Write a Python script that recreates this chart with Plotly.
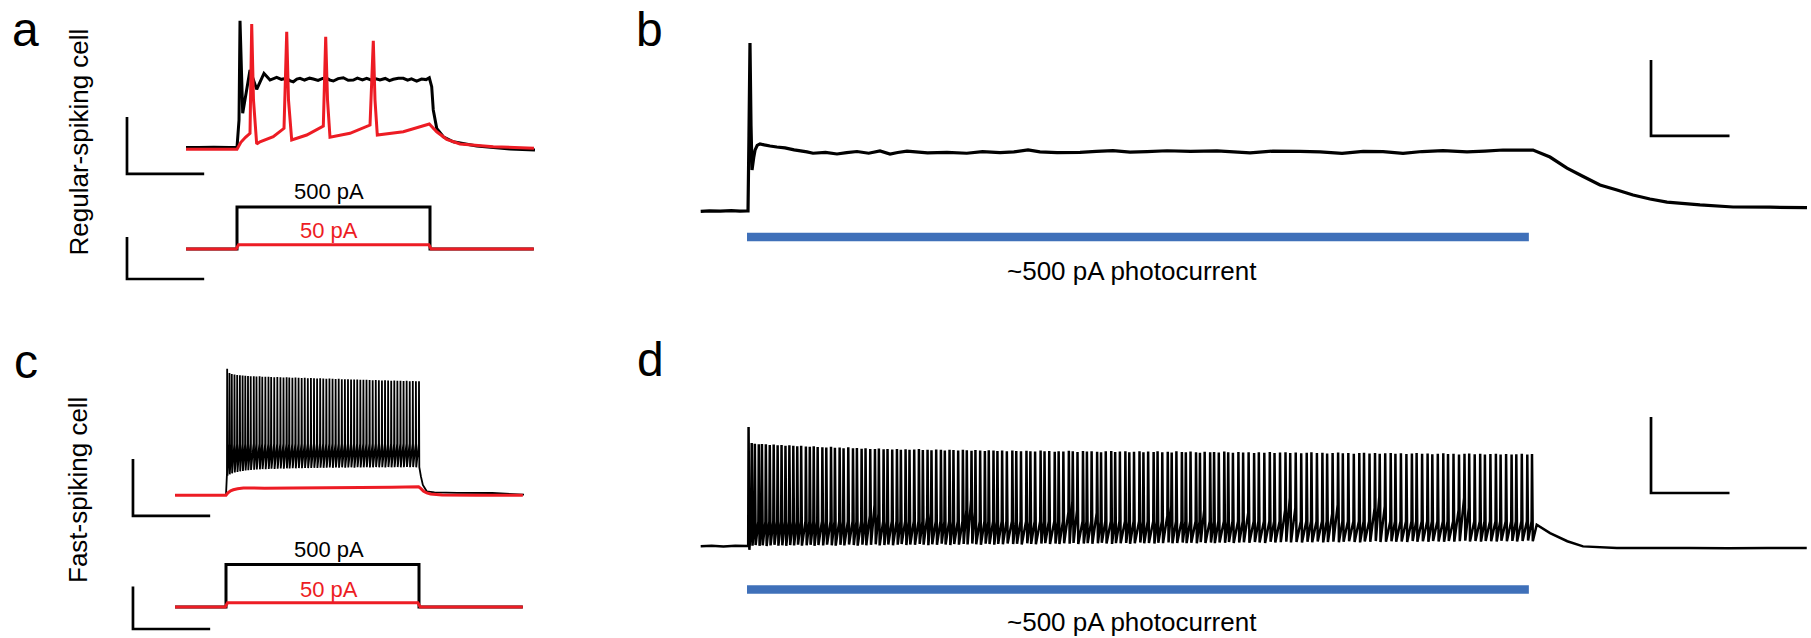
import plotly.graph_objects as go

# ---------------- DATA ----------------
# Panel a : regular-spiking cell, current steps (t in ms from step onset, V in mV, I in pA)
A_BLACK_T = [-132.1, -100, -60, -20, 0, 5.2, 7.8, 14.8, 33.7, 51.0, 69.9, 85.5, 102.8, 115, 128.8, 138,
             145.9, 155, 163.2, 175, 188, 197.7, 210, 222, 232.4, 241, 249.5, 262, 275.4, 288, 301.3, 312,
             325, 336.0, 350, 360, 370.5, 384, 395, 404.9, 418, 430.8, 442, 452, 465.5, 478, 490, 498.2,
             504.4, 508.5, 517.4, 534.5, 560.4, 621.0, 707.3, 772.0]
A_BLACK_V = [-69.6, -69.7, -69.5, -69.6, -69.6, -50.4, 19.3, -45.6, -15.3, -28.8, -17.6, -22.3, -20.4, -21.8,
             -21.1, -22.9, -23.5, -21.6, -21.1, -22.3, -21.0, -21.6, -22.6, -21.2, -21.1, -22.4, -23.0, -21.3,
             -20.7, -22.5, -22.3, -21.0, -22.2, -21.1, -22.6, -21.4, -22.3, -21.2, -22.7, -21.8, -21.0, -21.1,
             -22.4, -21.5, -23.0, -21.6, -22.0, -20.7, -27.0, -43.3, -56.2, -62.1, -65.6, -68.6, -70.7, -71.4]
A_RED_T = [-132.1, -60, 0, 10, 22, 33.7, 38.1, 42.7, 51.0, 59.6, 94.0, 121.8, 128.8, 133.4, 141.7, 180.6,
           223.6, 229.8, 234.5, 240.9, 292.7, 344.6, 353.1, 357.5, 363.5, 430.8, 498.2, 517.4, 543.3, 577.7,
           664.0, 769.4]
A_RED_V = [-70.9, -70.8, -70.9, -66.0, -62.5, -59.7, 17.0, -36.3, -67.2, -65.6, -62.1, -56.2, 11.6, -36.3,
           -64.4, -60.9, -54.6, 8.1, -36.3, -62.5, -59.7, -53.9, 5.3, -36.3, -60.9, -58.6, -53.2, -58.6,
           -63.9, -67.2, -69.1, -70.2]
STEP_T = [-132, 0, 0, 500, 500, 769]
STEP_500 = [0, 0, 500, 500, 0, 0]
STEP50_T = [-132, -2, 4, 497, 503, 769]
STEP_50 = [0, 0, 50, 50, 0, 0]

# Panel c : fast-spiking cell, current steps
C_PRE_T = [-132, -100, -60, -30, 0]
C_PRE_V = [-70.0, -70.1, -69.9, -70.0, -70.0]
C_SPIKE_T = [3, 9, 15, 22, 29, 36, 43, 50, 57, 64, 72, 79, 87, 94, 102, 110, 117, 125, 133, 141,
             149, 157, 164, 172, 180, 188, 196, 204, 212, 220, 228, 236, 244, 252, 260, 268, 276, 284, 292, 300,
             308, 316, 324, 332, 340, 348, 356, 364, 372, 380, 388, 396, 404, 412, 420, 428, 436, 444, 452, 460,
             468, 476, 484, 492, 500]
C_PEAK = [18.6, 15.6, 14.9, 14.5, 14.2, 14.0, 13.9, 13.6, 13.5, 13.4, 13.3, 13.2, 13.3, 13.0, 12.9, 13.0,
          12.8, 12.7, 12.8, 12.6, 12.5, 12.6, 12.4, 12.3, 12.4, 12.2, 12.1, 12.2, 12.0, 12.1, 11.9, 11.8, 11.9,
          11.7, 11.6, 11.7, 11.5, 11.4, 11.5, 11.3, 11.2, 11.3, 11.1, 11.0, 11.1, 10.9, 10.8, 10.9, 10.7, 10.6,
          10.7, 10.5, 10.4, 10.5, 10.3, 10.2, 10.3, 10.1, 10.2, 10.0, 10.1, 9.9, 10.0, 9.8, 9.9]
C_TROUGH = [-56.5, -55.5, -54.8, -54.2, -53.8, -53.4, -53.1, -52.8, -52.6, -52.4, -52.3, -52.1, -52.0, -51.8,
            -51.9, -51.7, -51.6, -51.7, -51.5, -51.4, -51.5, -51.3, -51.4, -51.2, -51.3, -51.1, -51.2, -51.0,
            -51.1, -51.0, -50.9, -51.0, -50.8, -50.9, -50.8, -50.7, -50.9, -50.7, -50.8, -50.6, -50.8, -50.7,
            -50.6, -50.8, -50.5, -50.7, -50.6, -50.5, -50.7, -50.6, -50.4, -50.6, -50.5, -50.7, -50.4, -50.6,
            -50.5, -50.4, -50.6, -50.5, -50.3, -50.5, -50.4, -50.6, -50.4]
C_THRESH = -34.0
C_THRESH_OVERRIDE = {0: -55.0}
C_POST_T = [505, 510, 520, 540, 600, 690, 772]
C_POST_V = [-57.0, -63.0, -67.4, -68.2, -68.5, -68.6, -69.8]
C_RED_T = [-132, 0, 5, 12, 19, 30, 45, 100, 174, 260, 350, 430, 499, 505, 512, 520, 530, 560, 650, 769]
C_RED_V = [-70.2, -70.2, -68.5, -67.0, -66.3, -65.6, -65.1, -65.2, -65.1, -64.9, -64.7, -64.5, -64.2, -65.5,
           -67.4, -68.5, -69.3, -70.0, -70.2, -70.2]

# Panel b : regular-spiking cell, photocurrent (t in ms from light onset)
B_T = [-59, -48, -34, -20, -9, 0, 1.3, 2.5, 3.8, 5.1, 6.4, 8.5, 10.2, 13, 16.6, 22, 29.3, 38, 48.4, 60,
       76.4, 84.1, 100, 114.6, 127, 140.1, 155, 169.4, 182.2, 192, 203.8, 230, 254.8, 280, 300, 322.3, 340,
       358.0, 373.2, 395, 424.2, 445, 466.2, 488, 509.6, 535.0, 565, 598.7, 620, 640.8, 670, 704.5, 730,
       758.0, 785, 810.2, 835.7, 860, 886.6, 917.2, 940, 963.1, 985, 1001.3, 1022.9, 1044.6, 1064.0, 1086.6,
       1108.3, 1128.7, 1150.3, 1172.0, 1214.0, 1256.1, 1303.2, 1350.3]
B_V = [-70.2, -69.9, -70.1, -69.8, -70.1, -70.0, -70.0, -30, 18.4, -25, -48.4, -42, -38, -35.5, -34.7, -35.2,
       -35.8, -36.3, -36.8, -37.8, -38.9, -39.6, -39.2, -40.0, -39.3, -38.7, -39.6, -38.4, -40.0, -39.2, -38.5,
       -39.4, -39.1, -39.6, -38.8, -39.3, -38.9, -37.8, -38.9, -39.3, -39.1, -38.6, -38.2, -39.0, -38.7, -38.3,
       -38.6, -38.4, -38.9, -39.4, -38.5, -38.6, -38.9, -39.7, -38.6, -38.8, -39.7, -38.7, -38.2, -38.9, -38.5,
       -37.9, -38.0, -37.9, -41.6, -47.4, -51.6, -56.3, -58.9, -61.6, -63.7, -65.3, -66.8, -67.9, -68.0, -68.2]
LIGHT_ON_OFF = [0, 996]

# Panel d : fast-spiking cell, photocurrent
D_PRE_T = [-59, -45, -30, -15, 0, 1.5]
D_PRE_V = [-70.1, -69.9, -70.2, -69.9, -70.0, -70.0]
D_SPIKE_T = [2, 6, 10, 15, 19, 24, 29, 34, 39, 44, 49, 54, 59, 64, 69, 75, 80, 85, 90, 96,
             101, 107, 112, 118, 123, 129, 135, 140, 146, 151, 157, 163, 168, 174, 179, 185, 191, 196, 202, 207,
             213, 219, 224, 230, 235, 241, 247, 252, 258, 263, 269, 275, 280, 286, 291, 297, 303, 308, 314, 319,
             325, 331, 338, 343, 349, 356, 361, 367, 374, 379, 385, 392, 397, 403, 410, 415, 421, 428, 433, 439,
             446, 451, 457, 464, 469, 475, 482, 487, 493, 500, 505, 511, 518, 523, 529, 536, 541, 547, 554, 559,
             565, 572, 577, 583, 590, 595, 601, 608, 613, 619,
             626, 632, 639, 646, 652, 659, 666, 672, 679, 686, 692, 699, 706, 713, 719, 726, 733, 739, 746, 753,
             759, 766, 773, 780, 786, 793, 800, 806, 813, 820, 826, 833, 840, 847, 853, 860, 867, 873, 880, 887,
             893, 900, 907, 914, 920, 927, 934, 940, 947, 954, 960, 967, 974, 980, 987, 994, 1000]
D_PEAK = [-7.4, -15.8, -16.2, -16.5, -16.3, -16.5, -16.8, -16.6, -17.0, -16.9, -17.2, -17.0, -17.3, -17.5,
          -17.2, -17.6, -17.8, -17.5, -17.9, -18.0,
          -18.1, -17.8, -18.3, -18.2, -18.5, -18.0, -18.6, -18.4, -18.8, -18.5, -18.9, -19.0, -18.7, -19.1,
          -18.9, -19.2, -19.0, -19.3, -19.1, -19.4, -19.2, -19.0, -19.5, -19.3, -19.6, -19.2, -19.4, -19.7,
          -19.3, -19.5, -19.8, -19.4, -19.6, -19.9, -19.5, -19.7, -20.0, -19.6, -19.8, -20.0,
          -19.7, -20.1, -19.8, -20.0, -20.2, -19.9, -20.1, -20.3, -19.8, -20.2, -20.0, -20.4, -20.1, -20.3,
          -19.9, -20.2, -20.5, -20.0, -20.3, -20.1, -20.4, -20.6, -20.2, -20.0, -20.5, -20.3, -20.1, -20.6,
          -20.4, -20.2, -20.7, -20.3, -20.5, -20.1, -20.6, -20.4, -20.8, -20.2, -20.5, -20.7, -20.3, -20.6,
          -20.9, -20.4, -20.7, -20.5, -20.8, -20.3, -20.6, -20.9,
          -20.5, -20.8, -20.6, -21.0, -20.7, -20.9, -20.5, -21.1, -20.8, -20.6, -21.0, -20.8, -21.2, -20.9,
          -20.7, -21.1, -20.9, -21.3, -21.0, -20.8, -21.2, -21.0, -21.4, -21.1, -20.9, -21.3, -21.1, -21.5,
          -21.2, -21.0, -21.4, -21.2, -21.6, -21.3, -21.1, -21.5, -21.3, -21.7, -21.4, -21.2, -21.6, -21.4,
          -21.8, -21.5, -21.3, -21.7, -21.5, -21.8, -21.6, -21.4, -21.8, -21.6, -21.9, -21.7, -21.5, -21.8,
          -21.6]
D_TROUGH = [-72.0, -69.8, -69.5, -69.9, -69.6, -70.0, -69.7, -69.4, -69.8, -69.6, -69.9, -69.5, -69.7, -69.3,
            -69.8, -69.6, -69.4, -69.9, -69.5, -69.7,
            -69.3, -69.6, -69.8, -69.4, -69.7, -69.2, -69.5, -69.8, -69.3, -69.6, -69.4, -69.1, -69.7, -69.5,
            -69.2, -69.6, -69.3, -69.0, -69.5, -69.2, -69.4, -68.9, -69.3, -69.6, -69.1, -69.4, -68.8, -69.2,
            -69.5, -69.0, -69.3, -68.9, -69.2, -68.7, -69.1, -69.4, -68.8, -69.0, -69.3, -68.9,
            -69.1, -68.7, -69.0, -68.8, -69.2, -68.6, -68.9, -69.1, -68.7, -68.5, -68.9, -68.7, -69.0, -68.6,
            -68.8, -68.4, -68.9, -68.7, -68.5, -68.8, -68.6, -68.3, -68.7, -68.9, -68.5, -68.6, -68.4, -68.8,
            -68.5, -68.2, -68.6, -68.4, -68.7, -68.3, -68.5, -68.1, -68.6, -68.4, -68.2, -68.5, -68.3, -68.6,
            -68.0, -68.4, -68.2, -68.5, -68.1, -68.3, -67.9, -68.4,
            -68.2, -68.0, -68.3, -67.9, -68.1, -68.4, -67.8, -68.2, -68.0, -67.7, -68.1, -67.9, -68.2, -67.8,
            -68.0, -67.6, -68.1, -67.9, -67.7, -68.0, -67.8, -67.5, -67.9, -68.1, -67.6, -67.8, -67.4, -67.9,
            -67.7, -67.5, -67.8, -67.6, -67.9, -67.4, -67.7, -67.5, -67.8, -67.3, -67.6, -67.8, -67.4, -67.7,
            -67.5, -67.2, -67.6, -67.4, -67.7, -67.3, -67.5, -67.6, -67.2, -67.5, -67.3, -67.6, -67.4, -67.1,
            -67.5]
D_THRESH = -57.0
D_THRESH_OVERRIDE = {0: -70.0, 30: -54.0, 31: -48.4, 32: -53.0, 43: -55.0, 44: -52.6, 52: -51.0, 53: -45.6,
                     54: -52.0, 74: -52.0, 75: -46.3, 76: -51.0, 80: -52.6, 95: -54.0, 96: -49.0, 103: -50.9,
                     112: -52.6, 119: -51.0, 120: -44.7, 121: -50.0, 128: -53.0, 129: -48.3, 136: -50.0,
                     137: -43.9, 138: -49.0, 152: -51.0, 153: -44.7, 154: -50.0}
D_POST_T = [1006, 1023, 1045, 1065, 1108, 1150, 1200, 1250, 1300, 1350]
D_POST_V = [-58.8, -63.2, -67.5, -70.2, -71.1, -71.1, -71.0, -71.2, -71.0, -71.1]

# scale bar sizes
SB_MV = 40
SB_PA = 500
SB_MS_STEP = 200
SB_MS_LIGHT = 100

# ---------------- LAYOUT / STYLE ----------------
W, H = 1811, 638
FONT = "Liberation Sans, Arial, Helvetica, sans-serif"
BLACK = "#000000"
RED = "#ED1C24"
BLUE = "#3F70B9"
LW = 3.0

# axis calibration: x=(px_left, px_right, px_ref, value_ref, px_per_unit), y=(px_top, px_bottom, px_ref, value_ref, px_per_unit)
AXES = [
    ("a_v", (100, 560, 237, 0.0, 0.386), (0, 182, 148, -70.0, 1.425)),
    ("a_i", (100, 560, 237, 0.0, 0.386), (182, 305, 249, 0.0, 0.084)),
    ("c_v", (100, 560, 226, 0.0, 0.386), (325, 530, 495, -70.0, 1.425)),
    ("c_i", (100, 560, 226, 0.0, 0.386), (530, 638, 607, 0.0, 0.085)),
    ("b_v", (600, 1811, 747, 0.0, 0.785), (0, 310, 211, -70.0, 1.9)),
    ("d_v", (600, 1811, 747, 0.0, 0.785), (310, 638, 546, -70.0, 1.9)),
]
# scale-bar corner (time, value) per axis
SB_CORNER = {"a_v": (-285, -88.2), "a_i": (-285, -357), "c_v": (-241, -84.7), "c_i": (-241, -259),
             "b_v": (1151.6, -30.5), "d_v": (1151.6, -42.1)}
BAR_LEVEL = {"b_v": -83.7, "d_v": -92.9}

layout = dict(width=W, height=H, margin=dict(l=0, r=0, t=0, b=0), paper_bgcolor="white",
              plot_bgcolor="rgba(0,0,0,0)", showlegend=False, hovermode=False, dragmode=False)
AXREF = {}
for n, (key, xc, yc) in enumerate(AXES, start=1):
    sfx = "" if n == 1 else str(n)
    px0, px1, pref, vref, ppu = xc
    fx = lambda p: vref + (p - pref) / ppu
    layout["xaxis" + sfx] = dict(domain=[px0 / W, px1 / W], range=[fx(px0), fx(px1)], visible=False,
                                 fixedrange=True, anchor="y" + sfx)
    py0, py1, pref, vref, ppu = yc
    fy = lambda p: vref - (p - pref) / ppu
    layout["yaxis" + sfx] = dict(domain=[1 - py1 / H, 1 - py0 / H], range=[fy(py1), fy(py0)], visible=False,
                                 fixedrange=True, anchor="x" + sfx)
    AXREF[key] = ("x" + sfx, "y" + sfx)

fig = go.Figure()


def add(key, x, y, color=BLACK, width=LW):
    xa, ya = AXREF[key]
    fig.add_trace(go.Scatter(x=list(x), y=list(y), mode="lines", xaxis=xa, yaxis=ya, hoverinfo="skip",
                             line=dict(color=color, width=width, simplify=False)))


def scalebar(key, len_t, len_v):
    t0, v0 = SB_CORNER[key]
    add(key, [t0, t0, t0 + len_t], [v0 + len_v, v0, v0], BLACK, 2.7)


def spike_train(pre_t, pre_v, times, peaks, troughs, thr, thr_over, post_t, post_v, rise, fall):
    xs, ys = list(pre_t), list(pre_v)
    for i, (t, p, tr) in enumerate(zip(times, peaks, troughs)):
        xs += [t - rise, t, t + fall]
        ys += [thr_over.get(i, thr), p, tr]
    return xs + list(post_t), ys + list(post_v)


# panel a
add("a_v", A_BLACK_T, A_BLACK_V, BLACK)
add("a_v", A_RED_T, A_RED_V, RED)
scalebar("a_v", SB_MS_STEP, SB_MV)
add("a_i", STEP_T, STEP_500, BLACK)
add("a_i", STEP50_T, STEP_50, RED)
scalebar("a_i", SB_MS_STEP, SB_PA)

# panel c
cx, cy = spike_train(C_PRE_T, C_PRE_V, C_SPIKE_T, C_PEAK, C_TROUGH, C_THRESH, C_THRESH_OVERRIDE,
                     C_POST_T, C_POST_V, 0.5, 0.8)
add("c_v", cx, cy, BLACK, 1.8)
add("c_v", C_RED_T, C_RED_V, RED)
scalebar("c_v", SB_MS_STEP, SB_MV)
add("c_i", STEP_T, STEP_500, BLACK)
add("c_i", STEP50_T, STEP_50, RED)
scalebar("c_i", SB_MS_STEP, SB_PA)

# panel b
add("b_v", B_T, B_V, BLACK, 3.2)
add("b_v", LIGHT_ON_OFF, [BAR_LEVEL["b_v"]] * 2, BLUE, 8.5)
scalebar("b_v", SB_MS_LIGHT, SB_MV)

# panel d
dx, dy = spike_train(D_PRE_T, D_PRE_V, D_SPIKE_T, D_PEAK, D_TROUGH, D_THRESH, D_THRESH_OVERRIDE,
                     D_POST_T, D_POST_V, 0.5, 1.0)
add("d_v", dx, dy, BLACK, 2.5)
add("d_v", LIGHT_ON_OFF, [BAR_LEVEL["d_v"]] * 2, BLUE, 8.5)
scalebar("d_v", SB_MS_LIGHT, SB_MV)


def ann(text, px, py, size, color=BLACK, xanchor="center", angle=0):
    return dict(text=text, x=px / W, y=1 - py / H, xref="paper", yref="paper", xanchor=xanchor,
                yanchor="middle", showarrow=False, textangle=angle,
                font=dict(family=FONT, size=size, color=color))


layout["annotations"] = [
    ann("a", 10, 29.4, 48, xanchor="left"),
    ann("b", 634, 29.4, 48, xanchor="left"),
    ann("c", 12, 361.4, 48, xanchor="left"),
    ann("d", 635, 359.4, 48, xanchor="left"),
    ann("Regular-spiking cell", 78, 142.5, 26, angle=-90),
    ann("Fast-spiking cell", 78, 490, 26, angle=-90),
    ann("500 pA", 329, 191, 22),
    ann("50 pA", 329, 230, 22, color=RED),
    ann("500 pA", 329, 549, 22),
    ann("50 pA", 329, 589, 22, color=RED),
    ann("~500 pA photocurrent", 1132, 271, 26),
    ann("~500 pA photocurrent", 1132, 622, 26),
]
fig.update_layout(**layout)
fig.write_html("out.html", config={"displayModeBar": False, "staticPlot": True})
